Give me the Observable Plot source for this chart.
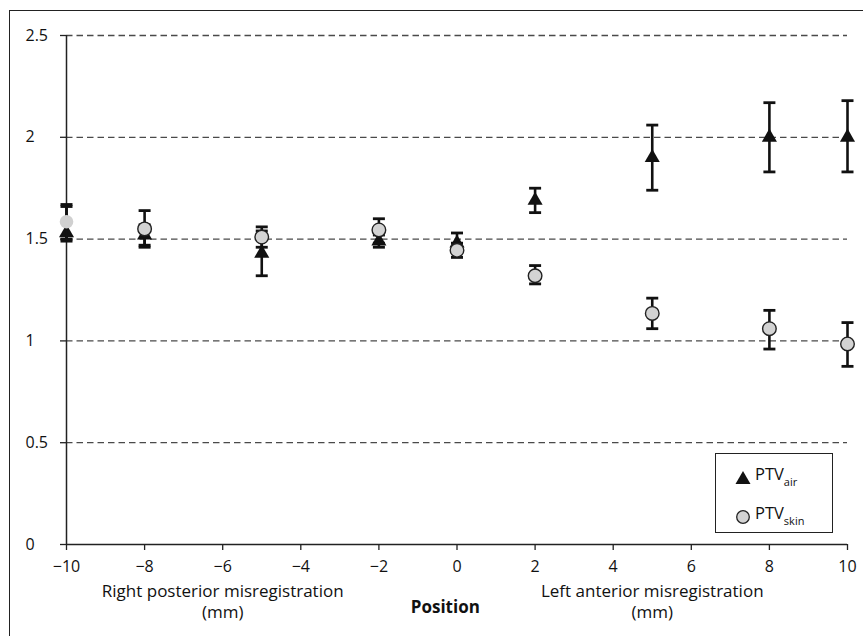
<!DOCTYPE html>
<html>
<head>
<meta charset="utf-8">
<script src="https://cdn.jsdelivr.net/npm/d3@7"></script>
<script src="https://cdn.jsdelivr.net/npm/@observablehq/plot@0.6"></script>
<style>
  body { margin: 0; background: #fff; }
  #wrap { position: relative; width: 863px; height: 636px; overflow: hidden; font-family: "Open Sans", sans-serif; }
  #frame { position: absolute; left: 9px; top: 10px; width: 900px; height: 700px; border-left: 1.5px solid #222; border-top: 1.5px solid #222; pointer-events: none; }
  #legend { position: absolute; left: 715px; top: 453px; width: 116px; height: 78px; border: 1.5px solid #222; background: #fff; font-size: 16.5px; color: #111; }
  .row { position: absolute; left: 19px; display: flex; align-items: center; line-height: 20px; }
  .row svg { margin-right: 4px; }
  .row sub { font-size: 11px; vertical-align: -6px; }
</style>
</head>
<body>
<div id="wrap">
  <div id="chart"></div>
  <div id="frame"></div>
  <div id="legend">
    <div class="row" style="top:10px"><svg width="16" height="16" viewBox="-8 -8 16 16"><path d="M0,-7L7.5,6L-7.5,6Z" fill="#111"/></svg><span>PTV<sub>air</sub></span></div>
    <div class="row" style="top:49px"><svg width="16" height="16" viewBox="-8 -8 16 16"><circle r="6.3" fill="#d3d3d3" stroke="#222" stroke-width="1.3"/></svg><span>PTV<sub>skin</sub></span></div>
  </div>
</div>
<script>
const positions = [-10, -8, -5, -2, 0, 2, 5, 8, 10];
const airMean  = [1.53, 1.52, 1.43, 1.49, 1.48, 1.69, 1.90, 2.00, 2.00];
const airLow   = [1.49, 1.47, 1.32, 1.46, 1.45, 1.63, 1.74, 1.83, 1.83];
const airHigh  = [1.67, 1.57, 1.54, 1.52, 1.53, 1.75, 2.06, 2.17, 2.18];
const skinMean = [1.585, 1.55, 1.51, 1.545, 1.445, 1.32, 1.135, 1.06, 0.985];
const skinLow  = [1.50, 1.46, 1.46, 1.48, 1.41, 1.28, 1.06, 0.96, 0.875];
const skinHigh = [1.66, 1.64, 1.56, 1.60, 1.48, 1.37, 1.21, 1.15, 1.09];
const xTicks = [-10, -8, -6, -4, -2, 0, 2, 4, 6, 8, 10];
const yTicks = [0, 0.5, 1, 1.5, 2, 2.5];
const gridLines = [0.5, 1, 1.5, 2, 2.5];
const xLabelsLine1 = [
  {x: -6, text: "Right posterior misregistration"},
  {x: 5, text: "Left anterior misregistration"}
];
const xLabelsLine2 = [
  {x: -6, text: "(mm)"},
  {x: 5, text: "(mm)"}
];
const axisTitle = [{x: -0.3, text: "Position"}];

const air = positions.map((x, i) => ({x, y: airMean[i], lo: airLow[i], hi: airHigh[i]}));
const skin = positions.map((x, i) => ({x, y: skinMean[i], lo: skinLow[i], hi: skinHigh[i]}));

const cap = { draw(ctx) { ctx.moveTo(-6, 0); ctx.lineTo(6, 0); } };
const fmt = d => String(d).replace("-", "\u2212");

const chart = Plot.plot({
  width: 863,
  height: 636,
  marginLeft: 66,
  marginRight: 16,
  marginTop: 35,
  marginBottom: 92,
  style: {fontFamily: "Open Sans, sans-serif", fontSize: "16px", color: "#111", background: "transparent"},
  x: {domain: [-10, 10]},
  y: {domain: [0, 2.5]},
  marks: [
    Plot.ruleY(gridLines, {x1: -10, x2: 10, stroke: "#4a4a4a", strokeWidth: 1.3, strokeDasharray: "6.5,4"}),
    Plot.axisY(yTicks, {tickSize: 6, tickFormat: () => "", stroke: "#222", strokeWidth: 1.3}),
    Plot.text(yTicks, {y: d => d, text: d => String(d), frameAnchor: "left", dx: -41, textAnchor: "start", fontSize: 16, fill: "#111"}),
    Plot.ruleX([-10], {y1: 0, y2: 2.5, stroke: "#222", strokeWidth: 1.5}),
    Plot.ruleY([0], {stroke: "#222", strokeWidth: 1.5}),
    Plot.axisX(xTicks, {tickSize: 6, tickPadding: 10, tickFormat: fmt, stroke: "#222", strokeWidth: 1.3, fontSize: 16, fill: "#111", label: null}),
    Plot.text(xLabelsLine1, {x: "x", y: 0, text: "text", dy: 47, fontSize: 17, fill: "#111"}),
    Plot.text(xLabelsLine2, {x: "x", y: 0, text: "text", dy: 68, fontSize: 17, fill: "#111"}),
    Plot.text(axisTitle, {x: "x", y: 0, text: "text", dy: 63, fontSize: 17, fontWeight: "bold", fill: "#111"}),
    // PTV air
    Plot.ruleX(air, {x: "x", y1: "lo", y2: "hi", stroke: "#111", strokeWidth: 2.6}),
    Plot.dot(air, {x: "x", y: "lo", symbol: cap, stroke: "#111", strokeWidth: 2.8}),
    Plot.dot(air, {x: "x", y: "hi", symbol: cap, stroke: "#111", strokeWidth: 2.8}),
    Plot.dot(air, {x: "x", y: "y", symbol: "triangle", r: 5.6, fill: "#111", stroke: "none"}),
    // PTV skin
    Plot.ruleX(skin, {x: "x", y1: "lo", y2: "hi", stroke: "#111", strokeWidth: 2.6}),
    Plot.dot(skin, {x: "x", y: "lo", symbol: cap, stroke: "#111", strokeWidth: 2.8}),
    Plot.dot(skin, {x: "x", y: "hi", symbol: cap, stroke: "#111", strokeWidth: 2.8}),
    Plot.dot(skin.filter(d => d.x > -10), {x: "x", y: "y", r: 6.8, fill: "#d3d3d3", stroke: "#222", strokeWidth: 1.4}),
    Plot.dot(skin.filter(d => d.x === -10), {x: "x", y: "y", r: 6.8, fill: "#d0d0d0", stroke: "none"})
  ]
});
document.getElementById("chart").appendChild(chart);
</script>
</body>
</html>
